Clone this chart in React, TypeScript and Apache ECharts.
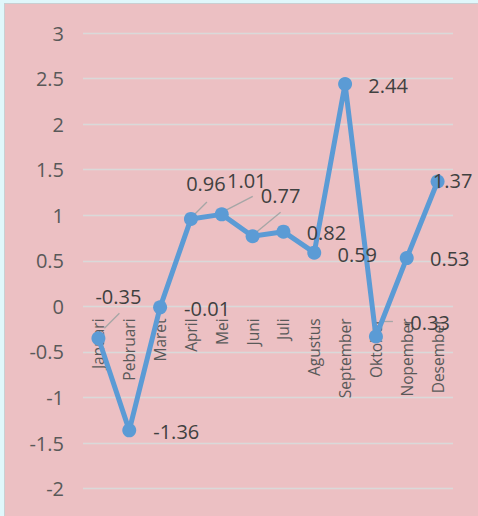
import React, { useEffect, useRef } from "react";
import * as echarts from "echarts";

// ---- data ----
const months = [
  "Januari", "Pebruari", "Maret", "April", "Mei", "Juni",
  "Juli", "Agustus", "September", "Oktober", "Nopember", "Desember",
];
const values = [-0.35, -1.36, -0.01, 0.96, 1.01, 0.77, 0.82, 0.59, 2.44, -0.33, 0.53, 1.37];
const yMin = -2;
const yMax = 3;
const yStep = 0.5;

// ---- label placement (pixel offsets from each point; leader = [x1,y1,x2,y2]) ----
type Placement = { dx: number; dy: number; leader?: [number, number, number, number] };
const placement: Placement[] = [
  { dx: 20, dy: -42, leader: [6, -10, 21, -25] },
  { dx: 47, dy: 1 },
  { dx: 47, dy: 1 },
  { dx: 15, dy: -35, leader: [0, -1, 16, -17] },
  { dx: 25, dy: -34, leader: [0, -2, 31, -18] },
  { dx: 28, dy: -41, leader: [0, -1, 28, -24] },
  { dx: 43, dy: 1 },
  { dx: 43, dy: 2 },
  { dx: 43, dy: 1 },
  { dx: 51, dy: -14, leader: [4, -15, 17, -15] },
  { dx: 43, dy: 0 },
  { dx: 15, dy: -1 },
];

const FONT = "'Open Sans', 'Noto Sans', sans-serif";

const CHART_W = 473;
const CHART_H = 512;
const GRID = { left: 78, right: 25, top: 29, bottom: 27.3 };

export default function App() {
  const ref = useRef<HTMLDivElement>(null);

  useEffect(() => {
    document.body.style.margin = "0";
    if (!ref.current) return;
    const chart = echarts.init(ref.current, undefined, { renderer: "svg" });

    const lineData = values.map((v, i) => ({
      value: v,
      label: { offset: [placement[i].dx, placement[i].dy] },
    }));

    const leaderIdx = placement
      .map((p, i) => (p.leader ? i : -1))
      .filter((i) => i >= 0);
    const leaderData = leaderIdx.map((i) => [i, values[i]]);

    // category labels hang just below the zero line (as in the original)
    const gridH = CHART_H - GRID.top - GRID.bottom;
    const zeroToBottom = gridH * ((0 - yMin) / (yMax - yMin));
    const labelMargin = 12 - zeroToBottom;

    chart.setOption({
      animation: false,
      backgroundColor: "#ecc0c3",
      grid: {
        ...GRID,
        containLabel: false,
        outerBoundsMode: "none",
      },
      xAxis: {
        type: "category",
        data: months,
        boundaryGap: true,
        position: "bottom",
        axisLine: { show: false, onZero: false },
        axisTick: { show: false },
        splitLine: { show: false },
        axisLabel: {
          rotate: 90,
          margin: labelMargin,
          fontSize: 15.5,
          fontFamily: FONT,
          color: "#595959",
          interval: 0,
        },
      },
      yAxis: {
        type: "value",
        min: yMin,
        max: yMax,
        interval: yStep,
        axisLine: { show: false },
        axisTick: { show: false },
        splitLine: { show: true, lineStyle: { color: "#d9d9d9", width: 1.3 } },
        axisLabel: {
          margin: 19,
          fontSize: 20,
          fontFamily: FONT,
          color: "#595959",
        },
      },
      series: [
        {
          type: "custom",
          z: 1,
          silent: true,
          data: leaderData,
          renderItem: (params: any, api: any) => {
            const idx = leaderIdx[params.dataIndex];
            const p = api.coord([api.value(0), api.value(1)]);
            const l = placement[idx].leader!;
            return {
              type: "line",
              shape: { x1: p[0] + l[0], y1: p[1] + l[1], x2: p[0] + l[2], y2: p[1] + l[3] },
              style: { stroke: "#a6a6a6", lineWidth: 1.3 },
            };
          },
        },
        {
          type: "line",
          z: 3,
          data: lineData,
          symbol: "circle",
          symbolSize: 14,
          showAllSymbol: true,
          lineStyle: { color: "#5b9bd5", width: 5 },
          itemStyle: { color: "#5b9bd5", borderWidth: 0 },
          label: {
            show: true,
            position: "inside",
            fontSize: 20,
            fontFamily: FONT,
            color: "#404040",
          },
        },
      ],
    });

    return () => chart.dispose();
  }, []);

  return (
    <div style={{ position: "relative", width: 478, height: 516, background: "#e0f7fb", overflow: "hidden" }}>
      <div
        style={{
          position: "absolute",
          left: 4,
          top: 3,
          width: 474,
          height: 513,
          borderLeft: "1px solid #c9cfd2",
          borderTop: "1px solid #c9cfd2",
        }}
      >
        <div ref={ref} style={{ width: CHART_W, height: CHART_H }} />
      </div>
    </div>
  );
}
